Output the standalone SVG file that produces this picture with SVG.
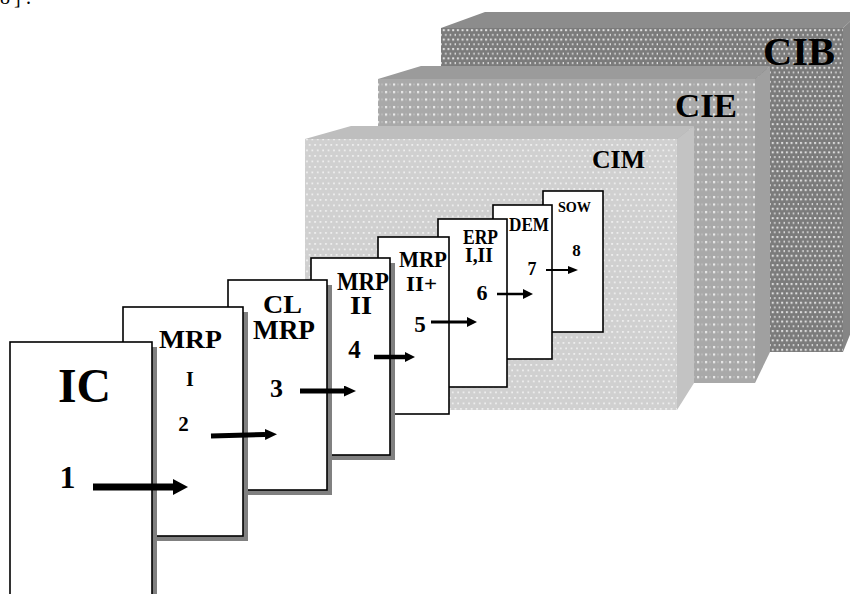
<svg xmlns="http://www.w3.org/2000/svg" width="850" height="594" viewBox="0 0 850 594">
<style>
.card{fill:#fff;stroke:#000;stroke-width:1.6}
.shadow{fill:#808080}
.lbl{font-family:"Liberation Serif","Times New Roman",serif;font-weight:bold;fill:#000}
.arr{stroke:#000;fill:none}
</style>
<defs>
<pattern id="pCIB" patternUnits="userSpaceOnUse" width="4.7" height="9.4">
<rect width="4.7" height="9.4" fill="#7b7b7b"/>
<rect x="1" y="1" width="2" height="2" fill="#e2e2e2"/>
<rect x="3.35" y="5.7" width="2" height="2" fill="#e2e2e2"/>
</pattern>
<pattern id="pCIE" patternUnits="userSpaceOnUse" width="8" height="7.5">
<rect width="8" height="7.5" fill="#a9a9a9"/>
<rect x="1" y="1" width="2.2" height="2.2" fill="#eaeaea"/>
<rect x="5.5" y="1" width="1" height="2" fill="#c6c6c6"/>
</pattern>
<pattern id="pCIM" patternUnits="userSpaceOnUse" width="5.4" height="11">
<rect width="5.4" height="11" fill="#d0d0d0"/>
<rect x="1" y="1" width="1.8" height="1.8" fill="#efefef"/>
<rect x="3.7" y="6.5" width="1.8" height="1.8" fill="#efefef"/>
</pattern>
<marker id="ahBig" markerUnits="userSpaceOnUse" markerWidth="15" markerHeight="16" viewBox="0 0 15 16" refX="0" refY="8" orient="auto">
<path d="M0,0 L15,8 L0,16 z" fill="#000"/>
</marker>
<marker id="ahMid" markerUnits="userSpaceOnUse" markerWidth="12" markerHeight="11" viewBox="0 0 12 11" refX="0" refY="5.5" orient="auto">
<path d="M0,0 L12,5.5 L0,11 z" fill="#000"/>
</marker>
<marker id="ah" markerUnits="userSpaceOnUse" markerWidth="10" markerHeight="10" viewBox="0 0 10 10" refX="0" refY="5" orient="auto">
<path d="M0,0 L10,5 L0,10 z" fill="#000"/>
</marker>
<marker id="ahSm" markerUnits="userSpaceOnUse" markerWidth="10" markerHeight="8" viewBox="0 0 10 8" refX="0" refY="4" orient="auto">
<path d="M0,0 L10,4 L0,8 z" fill="#000"/>
</marker>
</defs>

<text x="0 14 26" y="4" style="font-family:'Liberation Serif',serif;font-size:20px;fill:#000">8].</text>

<g id="node-CIB">
<polygon points="441,28 485,12 860,12 843,28" fill="#8c8c8c"/>
<polygon points="843,28 860,12 860,310 843,352" fill="#858585"/>
<rect x="441" y="28" width="402" height="324" fill="url(#pCIB)"/>
<text class="lbl" x="763" y="65" font-size="40" textLength="72" lengthAdjust="spacingAndGlyphs">CIB</text>
</g>

<g id="node-CIE">
<polygon points="378,79 421,66 770,66 755,79" fill="#9b9b9b"/>
<polygon points="755,79 770,66 770,352 755,383" fill="#a0a0a0"/>
<rect x="378" y="79" width="377" height="304" fill="url(#pCIE)"/>
<text class="lbl" x="675" y="117" font-size="33" textLength="62" lengthAdjust="spacingAndGlyphs">CIE</text>
</g>

<g id="node-CIM">
<polygon points="305,139 351,126 694,126 677,139" fill="#bebebe"/>
<polygon points="677,139 694,126 694,383 677,410" fill="#c3c3c3"/>
<rect x="305" y="139" width="372" height="271" fill="url(#pCIM)"/>
<text class="lbl" x="592" y="168" font-size="25" textLength="53" lengthAdjust="spacingAndGlyphs">CIM</text>
</g>

<g id="node-8">
<rect class="card" x="543" y="191" width="60" height="141"/>
<text class="lbl" x="558" y="212" font-size="15" textLength="33" lengthAdjust="spacingAndGlyphs">SOW</text>
<text class="lbl" x="576.5" y="256" font-size="17" text-anchor="middle">8</text>
</g>

<g id="node-7">
<rect class="card" x="493" y="205" width="59" height="154"/>
<text class="lbl" x="509" y="231" font-size="18" textLength="40" lengthAdjust="spacingAndGlyphs">DEM</text>
<text class="lbl" x="532" y="275" font-size="18" text-anchor="middle">7</text>
</g>

<g id="node-6">
<rect class="card" x="438" y="219" width="69" height="168"/>
<text class="lbl" x="463" y="244" font-size="21" textLength="35" lengthAdjust="spacingAndGlyphs">ERP</text>
<text class="lbl" x="465" y="262" font-size="21" textLength="28" lengthAdjust="spacingAndGlyphs">I,II</text>
<text class="lbl" x="482" y="300" font-size="22" text-anchor="middle">6</text>
</g>

<g id="node-5">
<rect class="card" x="378" y="237" width="71" height="177"/>
<text class="lbl" x="399" y="267" font-size="24" textLength="48" lengthAdjust="spacingAndGlyphs">MRP</text>
<text class="lbl" x="406" y="291" font-size="22" textLength="31" lengthAdjust="spacingAndGlyphs">II+</text>
<text class="lbl" x="420" y="332" font-size="23" text-anchor="middle">5</text>
</g>

<g id="node-4">
<rect class="shadow" x="316" y="263" width="79" height="197"/>
<rect class="card" x="311" y="258" width="79" height="197"/>
<text class="lbl" x="337" y="290" font-size="25" textLength="52" lengthAdjust="spacingAndGlyphs">MRP</text>
<text class="lbl" x="350" y="314" font-size="26" textLength="22" lengthAdjust="spacingAndGlyphs">II</text>
<text class="lbl" x="354.5" y="358" font-size="25" text-anchor="middle">4</text>
</g>

<g id="node-3">
<rect class="shadow" x="233" y="285" width="99" height="210"/>
<rect class="card" x="228" y="280" width="99" height="210"/>
<text class="lbl" x="263" y="313" font-size="26" textLength="39" lengthAdjust="spacingAndGlyphs">CL</text>
<text class="lbl" x="253" y="339" font-size="27" textLength="62" lengthAdjust="spacingAndGlyphs">MRP</text>
<text class="lbl" x="276.5" y="397" font-size="26" text-anchor="middle">3</text>
</g>

<g id="node-2">
<rect class="shadow" x="128" y="312" width="120" height="229"/>
<rect class="card" x="123" y="307" width="120" height="229"/>
<text class="lbl" x="159" y="348" font-size="25" textLength="63" lengthAdjust="spacingAndGlyphs">MRP</text>
<text class="lbl" x="190" y="386" font-size="20" text-anchor="middle">I</text>
<text class="lbl" x="183.5" y="431" font-size="21" text-anchor="middle">2</text>
</g>

<g id="node-1">
<rect class="shadow" x="15" y="347" width="142" height="270"/>
<rect class="card" x="10" y="342" width="142" height="270"/>
<text class="lbl" x="58" y="402" font-size="48" textLength="53" lengthAdjust="spacingAndGlyphs">IC</text>
<text class="lbl" x="67.5" y="488" font-size="32" text-anchor="middle">1</text>
</g>

<g id="connectors">
<line class="arr" x1="93" y1="487" x2="173" y2="487" stroke-width="7" marker-end="url(#ahBig)"/>
<line class="arr" x1="211" y1="436" x2="265" y2="434.5" stroke-width="5" marker-end="url(#ahMid)"/>
<line class="arr" x1="300" y1="391" x2="344" y2="391" stroke-width="5" marker-end="url(#ahMid)"/>
<line class="arr" x1="374" y1="357" x2="405" y2="357" stroke-width="4.5" marker-end="url(#ah)"/>
<line class="arr" x1="431" y1="322" x2="467" y2="322" stroke-width="3" marker-end="url(#ah)"/>
<line class="arr" x1="497" y1="294" x2="523" y2="294" stroke-width="2.5" marker-end="url(#ah)"/>
<line class="arr" x1="546" y1="270" x2="568" y2="270" stroke-width="2" marker-end="url(#ahSm)"/>
</g>
</svg>
